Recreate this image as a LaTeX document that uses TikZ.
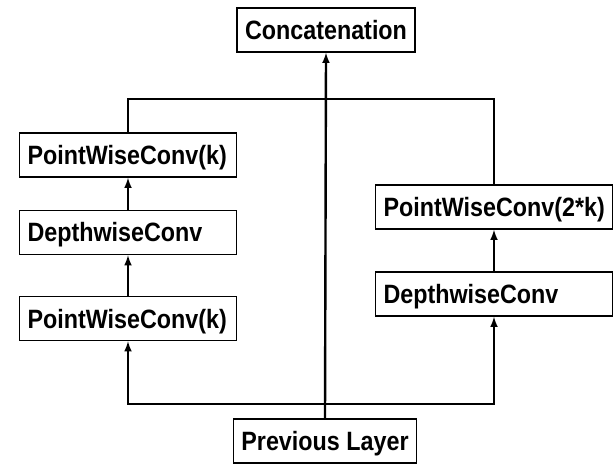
\documentclass[tikz,border=0pt]{standalone}
\usepackage{fontspec}
\setmainfont{Liberation Sans}
\newfontfamily\boxfont{Liberation Sans}[FakeStretch=0.88]
\usetikzlibrary{arrows}
\usetikzlibrary{math}

\begin{document}
\begin{tikzpicture}[x=1pt, y=-1pt,
  layer/.style={draw, line width=1.6, inner xsep=8pt, minimum height=44pt,
    text height=19pt, text depth=0pt,
    font=\boxfont\bfseries\fontsize{26.5}{30}\selectfont},
  fixed/.style={layer, text width=#1, align=left},
  conn/.style={-latex, line width=2.4},
  link/.style={line width=2.4}]
\tikzmath{
\WL=201;
\WR=221;
}
\useasboundingbox (0,0) rectangle (616,465);

\node[layer] (concat) at (326,30) {Concatenation};
\node[layer] (prev) at (325,441) {Previous Layer};

% left branch
\node[fixed=\WL pt] (pwB) at (128,318.5) {PointWiseConv(k)};
\node[fixed=\WL pt] (dwA) at (128,232.5) {DepthwiseConv};
\node[fixed=\WL pt] (pwA) at (128,155) {PointWiseConv(k)};

% right branch
\node[fixed=\WR pt] (dwB) at (494,294) {DepthwiseConv};
\node[fixed=\WR pt] (pwC) at (494,207) {PointWiseConv(2*k)};

\coordinate (fork) at (326,404);
\coordinate (merge) at (326,99);

\draw[conn] (prev.north) -- (concat.south);
\draw[conn] (fork) -| (pwB.south);
\draw[conn] (fork) -| (dwB.south);
\draw[conn] (pwB) -- (dwA);
\draw[conn] (dwA) -- (pwA);
\draw[conn] (dwB) -- (pwC);
\draw[link] (pwA.north) |- (merge) -| (pwC.north);

\end{tikzpicture}
\end{document}
